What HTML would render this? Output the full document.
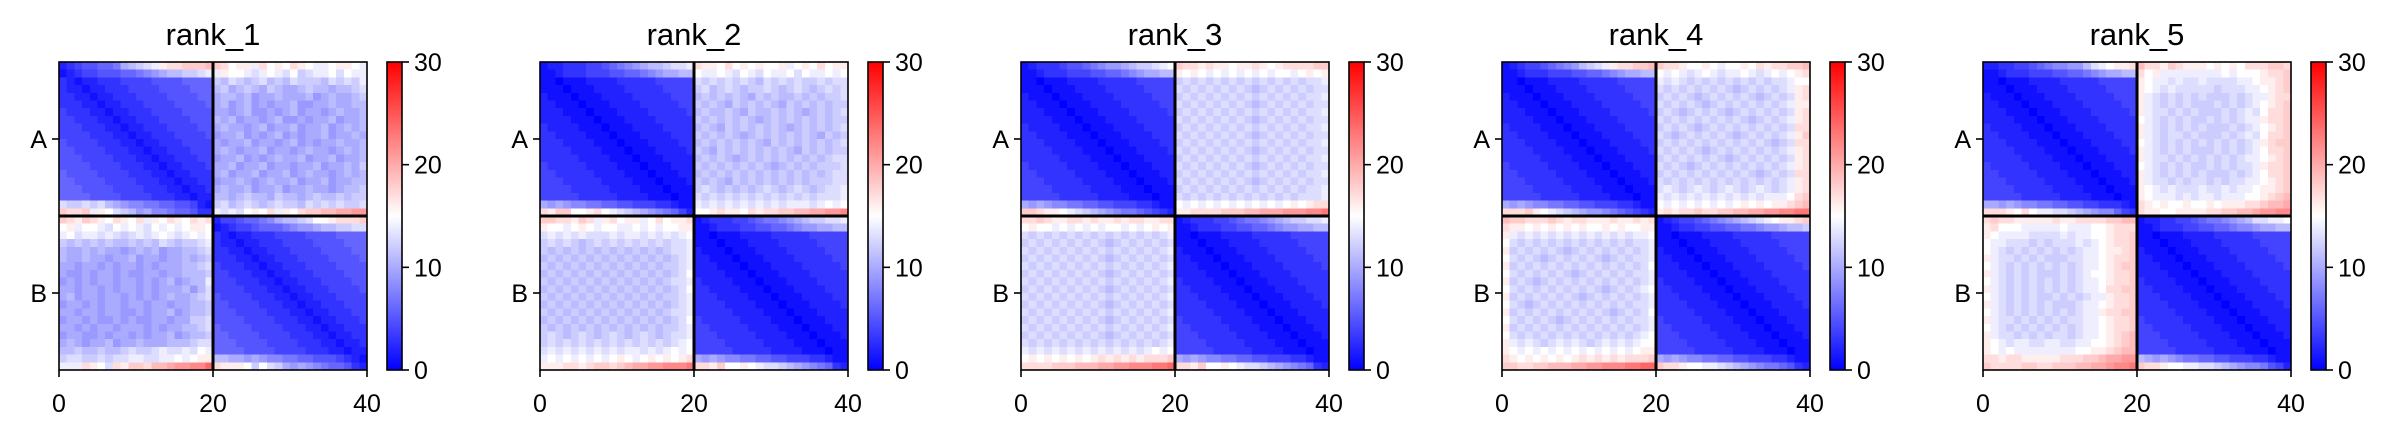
<!DOCTYPE html>
<html><head><meta charset="utf-8"><style>
html,body{margin:0;padding:0;background:#fff;}
svg{display:block;font-family:"Liberation Sans","DejaVu Sans",sans-serif;}
</style></head><body>
<svg id="fig" width="2401" height="438" viewBox="0 0 2401 438" xmlns="http://www.w3.org/2000/svg">
<defs>
<linearGradient id="bwr" x1="0" y1="1" x2="0" y2="0">
<stop offset="0" stop-color="#0000ff"/><stop offset="0.5" stop-color="#ffffff"/><stop offset="1" stop-color="#ff0000"/>
</linearGradient>
</defs>
</svg>
<script>
// Data: each panel = 40 rows of 40 values, encoded base-32 (0-9, a=10 ... u=30)
const panelTitles = ["rank_1","rank_2","rank_3","rank_4","rank_5"];
const xTickValues = [0,20,40];
const yTickValues = [10,30];
const yTickLabels = ["A","B"];
const cbarTicks = [0,10,20,30];
const chainBreak = 20;
const vmin = 0, vmax = 30;

const rank1Rows = [
"23455667abcdeghhiiijihfggehfgfhgfeefggfe",
"1234455566789abbccdeegffedefedfcdeefdfee",
"32122333444455556666cbdcbcdbcbdcccbdcdce",
"32212233344445555666bcabcbacbaabcbbabbcd",
"33221223334444555566abbab9aabaaab9abaabc",
"33322122333444455556ab9ab9a9aab99aabaabb",
"43332212233344445555aa9ab99a9ab9aa9abaab",
"44333221223334444555bab9aa9ab99a9aab9aab",
"44433322122333444455abaa9ab9aab9aab9abab",
"444433322122333444459aab9a9ab9a9aab9aaba",
"54444333221223334444a9aab9aa9ab9a9aabaab",
"55444433322122333444aba9aab9aa9abaa9abab",
"555444433322122333449aab9a9abaab9aab9aab",
"55554444333221223334aab9aab9aa9aab9aabac",
"65555444433322122333ab9aab9aab9abaa9abab",
"665555444433322122339aaba9abaab9aab9aabb",
"66655554444333221223abaab9aab9aabaa9abbc",
"66665555444433322122bbabcbbacbbabcbbcbcc",
"dccdcdba988776655421cdbcdcbcdccbdcdcdccd",
"ihhiegfdcb9a88766533ededfgfhegfhiijjkkll",
"ihgihgfhgfhegfhgfhgh24456678abbcdffghhhi",
"fgeffedfefedfefefggf1234456667899abbccdd",
"efdeededcdedefedefef32122333444455556666",
"cbcbcbcbbcbcbdcbccde32212233344445555666",
"baababaa9abab9aabbcd33221223334444555566",
"baabaa9aab9aa9aababc33322122333444455556",
"aa9aa9a9aa9a9aaabbcd43332212233344445555",
"a99a9aa9a99aa9aabbbc44333221223334444555",
"9a9a9aa9aa9a9ab9abbe44433322122333444455",
"aa9aa9a9aa9a9aaab9bd44443332212233344445",
"ab9aa9aa9a9a9abaabcd54444333221223334444",
"9aa9a9aa9aa9aa9aabbc55444433322122333444",
"aa9aa9aa99a9aab9abbc55544443332212233344",
"9aa9a99a9a99aa9aaccd55554444333221223334",
"aa9a9aa9aaa9a9aabbcd65555444433322122333",
"9aa99a9aa9a9aab9abbc66555544443332212233",
"aba9aab9aabaaabbbcdd66655554444333221223",
"bbcbbcbbcdccdeddedfe66665555444433322122",
"cddccdcddeeddeefefggbbaa9a98877665554321",
"eeehgfdhgiihjjkllmmohgggfcfdca9a98766532"
];

const rank2Rows = [
"1223334456789abbcddehggfhfgfgffgefgfhfgg",
"1123334445566789aabbfeefedfedfeefdfeefef",
"11011122223333344444dcdcdcdcbdcdcdccdcdd",
"11101112222333334444cdbcdcbccdcbcdcbcdcd",
"21110111222233333444bcbcbcbacbcbbcbcbccd",
"22111011122223333344cbcbacbcbcbacbcbcbcc",
"22211101112222333334bcbbcbacbbcbcbabcbcd",
"22221110111222233333cbcbcbcbabcbcbcbcbcc",
"32222111011122223333bcbacbcbcbcbabcbcbcd",
"33222211101112222333cbcbcbabcbcbcbcbacbc",
"33322221110111222233bcbcbcbcbacbcbcbcbcd",
"33332222111011122223cbacbcbcbcbcbacbcbcc",
"33333222211101112222bcbcbabcbcbcbcbcbcdd",
"43333322221110111222cbcbcbcbcbabcbcbcccd",
"44333332222111011122bcbcbcbcbcbcbcbcbcdd",
"44433333222211101112cbcbacbcbcbcbcbcccdd",
"44443333322221110111cdcbcbcbcdcbcdcbcdde",
"44444333332222111011dcdcdcdcdcdcdcdcddde",
"a9a98877665544433211ededededededeeedefef",
"hgiiffghfedcba987642ffghggfhghhiijjkkllm",
"iihhgiheghfggefhfggh1233344567789abccdde",
"gffefgfeffeefefeffgg1123334455667899aabb",
"dedededddedeedededef11011122223333344444",
"cdcdcbcdcdcdcdcdcdde11101112222333334444",
"cbcbcbcbcbcbcbcbcdde21110111222233333444",
"bcbcbcbcbcbcbcbcbcde22111011122223333344",
"cbcbcbcbcbcbcbcbccde22211101112222333334",
"bcbcbcbcbcbcbcbcbcdf22221110111222233333",
"cbcbcbcbcbcbcbcbcdde32222111011122223333",
"bcbcbcbcbcbcbcbcbcdf33222211101112222333",
"cbcbcbcbcbcbcbcbccde33322221110111222233",
"bcbcbcbcbcbcbcbcbcde33332222111011122223",
"cbcbcbcbcbcbcbcbcdde33333222211101112222",
"bcbcbcbcbcbcbcbcbcdf43333322221110111222",
"cbcbcbcbcbcbcbcbccde44333332222111011122",
"cdcbcdcbcdcbcdcbcdde44433333222211101112",
"cdcdcdcdcdcdcdcdcdef44443333322221110111",
"dedededededeededefef44444333332222111011",
"efefefefefgfefgfgfgha9a98877665544433211",
"ggghhghiihijkkllmmmnhhgiffgfeddcba987632"
];

const rank3Rows = [
"1233345567899abccdefihhghggfgghgfghhhhii",
"1123334445566789aabbgfgfefefefefeffefgfg",
"11011122223333344444cdcdcdcdcdcdcdcdcdde",
"11101112222333334444dcdcdcdcdcbcdcdcdcdd",
"21110111222233333444cdcdcdcdcdcdcdcdcdde",
"22111011122223333344dcdcdcdcdcbcdcdcdcdd",
"22211101112222333334cdcdcdcdcdcdcdcdcdde",
"22221110111222233333dcdcdcdcdcbcdcdcdcdd",
"32222111011122223333cdcdcdcdcdcdcdcdcdde",
"33222211101112222333dcdcdcdcdcbcdcdcdcdd",
"33322221110111222233cdcdcdcdcdcdcdcdcdde",
"33332222111011122223dcdcdcdcdcbcdcdcdcdd",
"33333222211101112222cdcdcdcdcdcdcdcdcdde",
"43333322221110111222dcdcdcdcdcbcdcdcdcdd",
"44333332222111011122cdcdcdcdcdcdcdcdcdde",
"44433333222211101112dcdcdcdcdcbcdcdcdcdd",
"44443333322221110111cdcdcdcdcdcdcdcdcdde",
"44444333332222111011dcdcdcdcdcdcdcdcddde",
"a9a98877665544433211fefefefefefefefgfghh",
"iihggfedcba987765432gghhhhiiijjkkklllmmn",
"hhihgghhghgghghhgghh1233344567789abccdde",
"fgffefefefeffefefgfg1123334455667899aabb",
"dcdcdcdcdcdcdcdcdcde11011122223333344444",
"cdcdcdcdcdcbcdcdcdcd11101112222333334444",
"dcdcdcdcdcdcdcdcdcde21110111222233333444",
"cdcdcdcdcdcbcdcdcdcd22111011122223333344",
"dcdcdcdcdcdcdcdcdcde22211101112222333334",
"cdcdcdcdcdcbcdcdcdcd22221110111222233333",
"dcdcdcdcdcdcdcdcdcde32222111011122223333",
"cdcdcdcdcdcbcdcdcdcd33222211101112222333",
"dcdcdcdcdcdcdcdcdcde33322221110111222233",
"cdcdcdcdcdcbcdcdcdcd33332222111011122223",
"dcdcdcdcdcdcdcdcdcde33333222211101112222",
"cdcdcdcdcdcbcdcdcdcd43333322221110111222",
"dcdcdcdcdcdcdcdcdcde44333332222111011122",
"cdcdcdcdcdcbcdcdcdcd44433333222211101112",
"dcdcdcdcdcdcdcdcdcde44443333322221110111",
"ededededededededefef44444333332222111011",
"fgfgfgfgfghghghghhhia9a98877665544433211",
"hhhhiiijjjkkllmmmnnohhgiffgfeddcba987632"
];

const rank4Rows = [
"1234456789bcdeghhiijihhgffgfeffgfhghhiij",
"1123334445566789aabbfefedefedeefedefefgh",
"11011122223333344444ededcdcdcdcdcdcddeff",
"11101112222333334444dcdcdcdcdcbcdcdcdegh",
"21110111222233333444cdcdcbcdcdcdcbcdcdgh",
"22111011122223333344dcdcdcbcdcdcdcdcdegg",
"22211101112222333334cdcbcdcdcbcdcdcdcdgh",
"22221110111222233333dcdcdcdcdcdcbcdcdegh",
"32222111011122223333cdcdcbcdcdcdcdcdcdhh",
"33222211101112222333dcbcdcdcdcbcdcdcdegi",
"33322221110111222233cdcdcdcdcdcdcdcbcdhh",
"33332222111011122223dcdcdcbcdcdcdcdcdegh",
"33333222211101112222cdcdcdcdcbcdcdcdcdgh",
"43333322221110111222dcdcbcdcdcdcdcdcdegh",
"44333332222111011122cdcdcdcdcdcdcbcdcdhh",
"44433333222211101112dcdcdcdcdcdcdcdcdegh",
"44443333322221110111dedcdedcdedcdedcdegh",
"44444333332222111011edededededededeeefhi",
"a9a98877665544433211fefefefefefgfgfgghij",
"hhhigfedcba998765432ghghhihhiijjkkllmmnn",
"jiihhhihghhggghgghgh1234456789abcdefgghi",
"hggfgfgfgfgffgfgffgg1123344556677899abbc",
"gededededededededeef11011122223333344444",
"fdcdcdcdcdcdcdcdcdde11101112222333334444",
"gcdcdcdcbcdcdcdcdcde21110111222233333444",
"fdcdcbcdcdcdcbcdcdde22111011122223333344",
"gcdcdcdcdcdcdcdcdcdf22211101112222333334",
"fdcdcdcdcbcdcdcdcdde22221110111222233333",
"gcdcbcdcdcdcdcdcdcde32222111011122223333",
"fdcdcdcdcdcdcbcdcdef33222211101112222333",
"gcdcdcdcdcbcdcdcdcde33322221110111222233",
"fdcbcdcdcdcdcdcdcdde33332222111011122223",
"gcdcdcdcdcdcdcbcdcdf33333222211101112222",
"fdcdcdcbcdcdcdcdcdde43333322221110111222",
"gcdcdcdcdcdcdcdcdcde44333332222111011122",
"fdcdcdcdcdcdcdcdcdef44433333222211101112",
"gededcdededcdededeff44443333322221110111",
"gfefefefefefefefefgg44444333332222111011",
"hgfgfgfgfghghghghhhia9a98877665544433211",
"iihhiijjjkkllmmmnnooihhgffeedcba98776532"
];

const rank5Rows = [
"2233445678899bdefgghjhhgihgggfgfgfhhhiih",
"1123334445566789aabbhfgeeeeeeeefefffghhi",
"11011122223333344444gfeededdeddddeefgghi",
"11101112222333334444gfededddddcdddeefghi",
"21110111222233333444gedcdcdcdcccdcdeeghh",
"22111011122223333344gedcdcdcccdcdcdefghi",
"22211101112222333334geddcdcdcccdcdedfhhi",
"22221110111222233333fedcdcdccdcdcdeeghhi",
"32222111011122223333gedcdcdcdcccdcdefghi",
"33222211101112222333gedcddcdcccdcdedfhhi",
"33322221110111222233fedcdcdcdcdcdcdeghii",
"33332222111011122223gedcdcdcccdcdcdefhhi",
"33333222211101112222geddcdcdcdcdcdeefghi",
"43333322221110111222fedcdcdccdcdcddeghhi",
"44333332222111011122gedcdcdcdcccdcdefhhi",
"44433333222211101112geddcdcddcdcddeefghi",
"44443333322221110111gfededddeddedeefgghi",
"44444333332222111011gfeeededeedeeeffghij",
"aa9a9887766554433321hgfgffgffgfggghhijjk",
"hhhgfhfeeddcba988643hggffgggghhiijjkllmm",
"hihhggggghgghhhhiijj1223344567789abddeef",
"ghfffeeeeefeeeffghhh1123334455667889aabb",
"gfeeeeddddedeeffghhi11011122223333344444",
"feedddcdcdddedefghhi11101112222333334444",
"fedcdcdcdcdcdeefgghi21110111222233333444",
"geddcdcdcccddeefghhi22111011122223333344",
"fedcdcdcdcdcdeefghii22211101112222333334",
"gedcdcdcccdcdeffghhi22221110111222233333",
"fedcdcdcdcdcdeefghhi32222111011122223333",
"gedcdcdcdcdcdeefhhii33222211101112222333",
"fedcdcdccdcdcdeeghhi33322221110111222233",
"gedcdcdcdcccdeefghhi33332222111011122223",
"fedcdcdcdcdcdeeghhii33333222211101112222",
"geddcdcdcdcddeefghhi43333322221110111222",
"fedcdcdcdcdcdeefghhi44333332222111011122",
"geddcdcdcddcdeefghij44433333222211101112",
"gfedeeddeeddeeffghij44443333322221110111",
"gfefeeeeeeeeffgghijj44444333332222111011",
"hhghhggggghhhiijkkllba9a9877665544433211",
"ihhhhiihhiiijjkklmmnihhgffeeddcba9887542"
];

const panelData = [rank1Rows, rank2Rows, rank3Rows, rank4Rows, rank5Rows];

// ---- layout ----
const NS = "http://www.w3.org/2000/svg";
const svg = document.getElementById("fig");
const panelX0 = 59, panelStep = 481, plotY0 = 62, plotSize = 308;
const cbarOffset = 328, cbarW = 15;

function mk(tag, attrs, parent) {
  const e = document.createElementNS(NS, tag);
  for (const k in attrs) e.setAttribute(k, attrs[k]);
  (parent || svg).appendChild(e);
  return e;
}
function bwr(v) {
  let t = Math.max(0, Math.min(1, (v - vmin) / (vmax - vmin)));
  let r, g, b;
  if (t < 0.5) { const s = t / 0.5; r = Math.round(255 * s); g = r; b = 255; }
  else { const s = (t - 0.5) / 0.5; r = 255; g = Math.round(255 * (1 - s)); b = g; }
  return "rgb(" + r + "," + g + "," + b + ")";
}

panelData.forEach((rows, p) => {
  const x0 = panelX0 + p * panelStep;
  const n = rows.length;
  const cell = plotSize / n;
  const xScale = v => x0 + v / n * plotSize;
  const yScale = v => plotY0 + v / n * plotSize;

  const g = mk("g", {});
  
  

  const title = mk("text", {x: x0 + plotSize / 2, y: 45, "text-anchor": "middle", "font-size": "31"}, g);
  
  
  title.textContent = panelTitles[p];

  const heat = mk("g", {"shape-rendering": "crispEdges"}, g);
  
  
  rows.forEach((row, i) => {
    for (let j = 0; j < row.length; j++) {
      const v = parseInt(row[j], 32);
      const r = mk("rect", {x: xScale(j), y: yScale(i), width: cell + 0.6, height: cell + 0.6, fill: bwr(v)}, heat);
      
      
    }
  });

  const vl = mk("line", {x1: xScale(chainBreak), x2: xScale(chainBreak), y1: plotY0, y2: plotY0 + plotSize, stroke: "#000", "stroke-width": 3}, g);
  
  
  const hl = mk("line", {x1: x0, x2: x0 + plotSize, y1: yScale(chainBreak), y2: yScale(chainBreak), stroke: "#000", "stroke-width": 3}, g);
  
  

  const frame = mk("rect", {x: x0, y: plotY0, width: plotSize, height: plotSize, fill: "none", stroke: "#000", "stroke-width": 1.6}, g);
  
  

  xTickValues.forEach(v => {
    const tx = xScale(v);
    const t = mk("line", {x1: tx, x2: tx, y1: plotY0 + plotSize, y2: plotY0 + plotSize + 7, stroke: "#000", "stroke-width": 1.6}, g);
    
    
    const l = mk("text", {x: tx, y: 412, "text-anchor": "middle", "font-size": "25"}, g);
    
    
    l.textContent = v;
  });
  yTickValues.forEach((v, k) => {
    const ty = yScale(v);
    const t = mk("line", {x1: x0 - 7, x2: x0, y1: ty, y2: ty, stroke: "#000", "stroke-width": 1.6}, g);
    
    
    const l = mk("text", {x: x0 - 12, y: ty + 9, "text-anchor": "end", "font-size": "25"}, g);
    
    
    l.textContent = yTickLabels[k];
  });

  const cx = x0 + cbarOffset;
  const cbScale = v => plotY0 + plotSize - (v - vmin) / (vmax - vmin) * plotSize;
  const cb = mk("rect", {x: cx, y: plotY0, width: cbarW, height: plotSize, fill: "url(#bwr)", stroke: "#000", "stroke-width": 1.6}, g);
  
  
  cbarTicks.forEach(v => {
    const ty = cbScale(v);
    const t = mk("line", {x1: cx + cbarW, x2: cx + cbarW + 7, y1: ty, y2: ty, stroke: "#000", "stroke-width": 1.6}, g);
    
    
    const l = mk("text", {x: cx + cbarW + 12, y: ty + 9, "text-anchor": "start", "font-size": "25"}, g);
    
    
    l.textContent = v;
  });
});
</script>
</body></html>
